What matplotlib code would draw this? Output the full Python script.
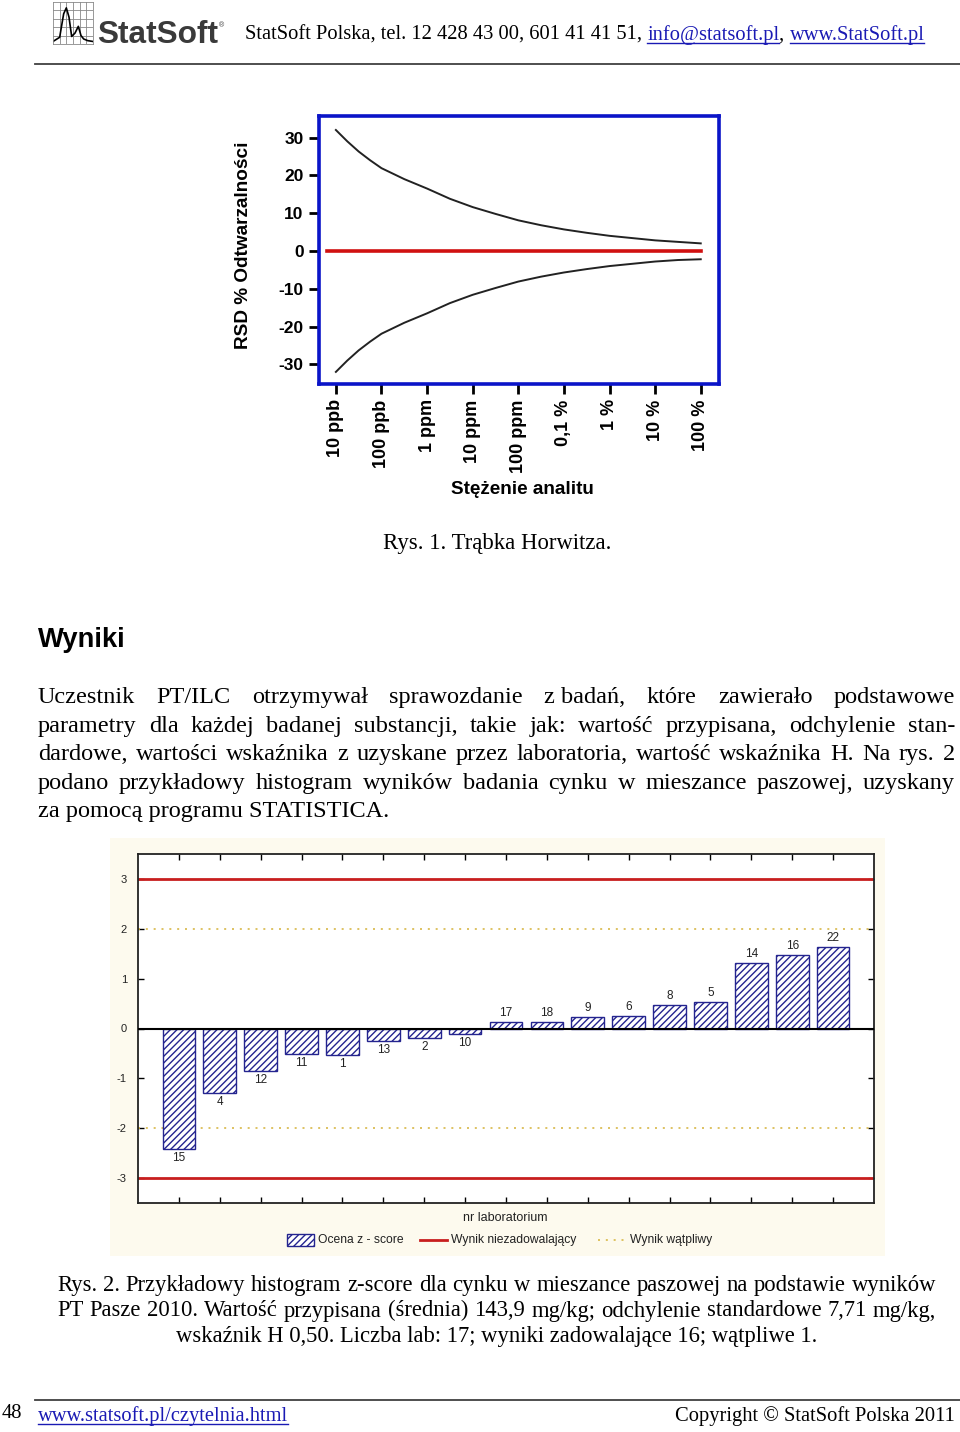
import matplotlib
matplotlib.use("Agg")
import matplotlib.pyplot as plt
from matplotlib.lines import Line2D
from matplotlib.patches import Rectangle

W, H = 960, 1432

# --- Rys. 1: Horwitz trumpet ---
conc_pos = [0, 0.25, 0.5, 0.75, 1, 1.5, 2, 2.5, 3, 3.5, 4, 4.5, 5, 5.5, 6, 6.5, 7, 7.5, 8]
rsd_upper = [32, 29.0, 26.3, 24.0, 21.9, 19.0, 16.5, 13.8, 11.6, 9.8, 8.1, 6.8, 5.7, 4.8, 4.0, 3.4, 2.8, 2.4, 2.0]
rsd_lower = [-32, -29.0, -26.3, -24.0, -21.9, -19.0, -16.5, -13.8, -11.6, -9.8, -8.1, -6.8, -5.7, -4.8, -4.0, -3.4, -2.8, -2.4, -2.2]
conc_ticks = [0, 1, 2, 3, 4, 5, 6, 7, 8]
conc_labels = ["10 ppb", "100 ppb", "1 ppm", "10 ppm", "100 ppm", "0,1 %", "1 %", "10 %", "100 %"]
rsd_ticks = [30, 20, 10, 0, -10, -20, -30]

# --- Rys. 2: z-score histogram ---
lab_ids = ["15", "4", "12", "11", "1", "13", "2", "10", "17", "18", "9", "6", "8", "5", "14", "16", "22"]
z_scores = [-2.42, -1.29, -0.85, -0.52, -0.53, -0.25, -0.19, -0.11,
            0.13, 0.13, 0.23, 0.26, 0.48, 0.54, 1.31, 1.47, 1.64]
z_ticks = [3, 2, 1, 0, -1, -2, -3]
legend_labels = ["Ocena z - score", "Wynik niezadowalający", "Wynik wątpliwy"]

body = [
    "Uczestnik PT/ILC otrzymywał sprawozdanie z\u00a0badań, które zawierało podstawowe",
    "parametry dla każdej badanej substancji, takie jak: wartość przypisana, odchylenie stan-",
    "dardowe, wartości wskaźnika z uzyskane przez laboratoria, wartość wskaźnika H. Na rys. 2",
    "podano przykładowy histogram wyników badania cynku w mieszance paszowej, uzyskany",
    "za pomocą programu STATISTICA.",
]
caption2 = [
    "Rys. 2. Przykładowy histogram z-score dla cynku w mieszance paszowej na podstawie wyników",
    "PT Pasze 2010. Wartość przypisana (średnia) 143,9 mg/kg; odchylenie standardowe 7,71 mg/kg,",
    "wskaźnik H 0,50. Liczba lab: 17; wyniki zadowalające 16; wątpliwe 1.",
]

logo_x = [0, 1, 1.6, 2.0, 2.4, 2.8, 3.3, 3.8, 4.2, 4.6, 5.2, 6]
logo_y = [0.3, 0.8, 3.6, 4.3, 3.2, 0.9, 1.3, 2.1, 1.0, 0.6, 0.4, 0.3]

SERIF = "Liberation Serif"
SANS = "Liberation Sans"
NAVY = "#24248f"
RED = "#c81e1e"
GOLD = "#d8b848"
LINK = "#1a1ab4"


def fx(x):
    return x / W


def fy(y):
    return 1 - y / H


fig = plt.figure(figsize=(W / 100, H / 100), dpi=100)
fig.patch.set_facecolor("white")
renderer = fig.canvas.get_renderer()


def text_width(t):
    return t.get_window_extent(renderer).width


def justify(line, y, x0, x1, **kw):
    words = line.split(" ")
    texts = [fig.text(0, fy(y), w, va="baseline", ha="left", **kw) for w in words]
    widths = [text_width(t) for t in texts]
    gap = (x1 - x0 - sum(widths)) / max(len(words) - 1, 1)
    x = x0
    for t, w in zip(texts, widths):
        t.set_x(fx(x))
        x += w + gap


def underline(t, y, color):
    bb = t.get_window_extent(renderer)
    fig.add_artist(Line2D([bb.x0 / W, bb.x1 / W], [fy(y + 3), fy(y + 3)],
                          color=color, lw=1, transform=fig.transFigure))


# header
logo = fig.add_axes([fx(53), fy(44), 40 / W, 42 / H])
logo.set_xlim(0, 6)
logo.set_ylim(0, 5)
for v in range(1, 6):
    logo.axvline(v, color="#888888", lw=0.6)
for v in range(1, 5):
    logo.axhline(v, color="#888888", lw=0.6)
logo.plot(logo_x, logo_y, color="black", lw=1.2)
logo.set_xticks([])
logo.set_yticks([])
for s in logo.spines.values():
    s.set_color("#888888")
    s.set_linewidth(0.6)

fig.text(fx(97), fy(43), "StatSoft", fontsize=22.8, fontweight="bold", family=SANS,
         color="#3a3a3a", va="baseline")
fig.text(fx(219), fy(27), "®", fontsize=5, family=SANS, color="#3a3a3a", va="baseline")

HF = 14.8
t = fig.text(fx(245), fy(40), "StatSoft Polska, tel. 12 428 43 00, 601 41 41 51, ",
             fontsize=HF, family=SERIF, va="baseline")
x = 245 + text_width(t)
t = fig.text(fx(x), fy(40), "info@statsoft.pl", fontsize=HF, family=SERIF,
             va="baseline", color=LINK)
underline(t, 40, LINK)
x += text_width(t)
t = fig.text(fx(x), fy(40), ", ", fontsize=HF, family=SERIF, va="baseline")
x += text_width(t)
t = fig.text(fx(x), fy(40), "www.StatSoft.pl", fontsize=HF, family=SERIF,
             va="baseline", color=LINK)
underline(t, 40, LINK)
fig.add_artist(Line2D([fx(35), 1], [fy(64), fy(64)], color="#404040", lw=1.3,
                      transform=fig.transFigure))

# Rys. 1
ax1 = fig.add_axes([fx(319), fy(384), 400 / W, 268 / H])
ax1.plot(conc_pos, rsd_upper, color="#222222", lw=1.4)
ax1.plot(conc_pos, rsd_lower, color="#222222", lw=1.4)
ax1.plot([-0.2, 8], [0, 0], color="#d01010", lw=2.6)
ax1.set_xlim(-0.37, 8.4)
ax1.set_ylim(-35.2, 35.7)
ax1.set_xticks(conc_ticks)
ax1.set_xticklabels(conc_labels, rotation=90, fontsize=13, fontweight="bold", family=SANS)
ax1.set_yticks(rsd_ticks)
ax1.set_yticklabels([str(v) for v in rsd_ticks], fontsize=12.5, fontweight="bold", family=SANS)
ax1.tick_params(axis="both", direction="out", length=7, width=2, color="black", pad=4)
for s in ax1.spines.values():
    s.set_color("#0a14c8")
    s.set_linewidth(2.6)
fig.text(fx(243), fy(245), "RSD % Odtwarzalności", rotation=90, fontsize=13.7,
         fontweight="bold", family=SANS, ha="center", va="center")
fig.text(fx(522), fy(490), "Stężenie analitu", fontsize=13.6, fontweight="bold",
         family=SANS, ha="center", va="center")
fig.text(fx(497), fy(549), "Rys. 1. Trąbka Horwitza.", fontsize=16.4, family=SERIF,
         ha="center", va="baseline")

# Wyniki
fig.text(fx(38), fy(647), "Wyniki", fontsize=19.7, fontweight="bold", family=SANS,
         va="baseline")
base = 703
for i, line in enumerate(body):
    y = base + i * 28.6
    if i < len(body) - 1:
        justify(line, y, 38, 955, fontsize=17.5, family=SERIF)
    else:
        fig.text(fx(38), fy(y), line, fontsize=17.5, family=SERIF, va="baseline")

# Rys. 2
fig.add_artist(Rectangle((fx(110), fy(1256)), 775 / W, 418 / H, facecolor="#fdfaee",
                         edgecolor="none", transform=fig.transFigure, zorder=0))
ax2 = fig.add_axes([fx(138), fy(1203), 736 / W, 349 / H])
positions = list(range(1, len(z_scores) + 1))
ax2.bar(positions, z_scores, width=0.8, color="white", edgecolor=NAVY,
        hatch="/////", linewidth=1.0, zorder=3)
for p, v, lab in zip(positions, z_scores, lab_ids):
    off = 2 if v > 0 else -2
    ax2.annotate(lab, (p, v), xytext=(0, off), textcoords="offset points",
                 ha="center", va="bottom" if v > 0 else "top", fontsize=8.5,
                 family=SANS, color="#222222")
ax2.axhline(0, color="black", lw=1.5, zorder=4)
for v in (3, -3):
    ax2.axhline(v, color=RED, lw=2, zorder=2)
for v in (2, -2):
    ax2.axhline(v, color=GOLD, lw=1.2, ls=(0, (1.2, 3.5)), zorder=2)
ax2.set_xlim(0, 18)
ax2.set_ylim(-3.5, 3.5)
ax2.set_xticks(positions)
ax2.set_xticklabels([])
ax2.set_yticks(z_ticks)
ax2.set_yticklabels([str(v) for v in z_ticks], fontsize=8, family=SANS, color="#222222")
ax2.tick_params(axis="both", direction="in", length=4, width=1, top=True, right=True, pad=8)
for s in ax2.spines.values():
    s.set_color("#222222")
    s.set_linewidth(1.3)
fig.text(fx(505), fy(1218), "nr laboratorium", fontsize=9, family=SANS, ha="center",
         va="center", color="#222222")

# legend drawn by hand to match the original placement
LY = 1240
fig.add_artist(Rectangle((fx(287), fy(LY + 6)), 27 / W, 12 / H, facecolor="white",
                         edgecolor=NAVY, hatch="/////", lw=1, transform=fig.transFigure))
fig.add_artist(Line2D([fx(420), fx(447)], [fy(LY), fy(LY)], color=RED, lw=2,
                      transform=fig.transFigure))
fig.add_artist(Line2D([fx(598), fx(625)], [fy(LY), fy(LY)], color=GOLD, lw=1.2,
                      ls=(0, (1.2, 3.5)), transform=fig.transFigure))
for lx, lab in zip([318, 451, 630], legend_labels):
    fig.text(fx(lx), fy(LY), lab, fontsize=8.7, family=SANS, va="center",
             color="#222222")

y = 1291
for i, line in enumerate(caption2):
    yy = y + i * 25.5
    if i < 2:
        justify(line, yy, 57, 936, fontsize=16.3, family=SERIF)
    else:
        fig.text(fx(496.5), fy(yy), line, fontsize=16.3, family=SERIF, ha="center",
                 va="baseline")

# footer
fig.add_artist(Line2D([fx(35), 1], [fy(1400), fy(1400)], color="#404040", lw=1.3,
                      transform=fig.transFigure))
fig.text(fx(2), fy(1418), "48", fontsize=HF, family=SERIF, va="baseline")
t = fig.text(fx(38), fy(1421), "www.statsoft.pl/czytelnia.html", fontsize=HF,
             family=SERIF, va="baseline", color=LINK)
underline(t, 1421, LINK)
fig.text(fx(955), fy(1421), "Copyright © StatSoft Polska 2011", fontsize=HF,
         family=SERIF, va="baseline", ha="right")

fig.savefig("out.png", dpi=100)
